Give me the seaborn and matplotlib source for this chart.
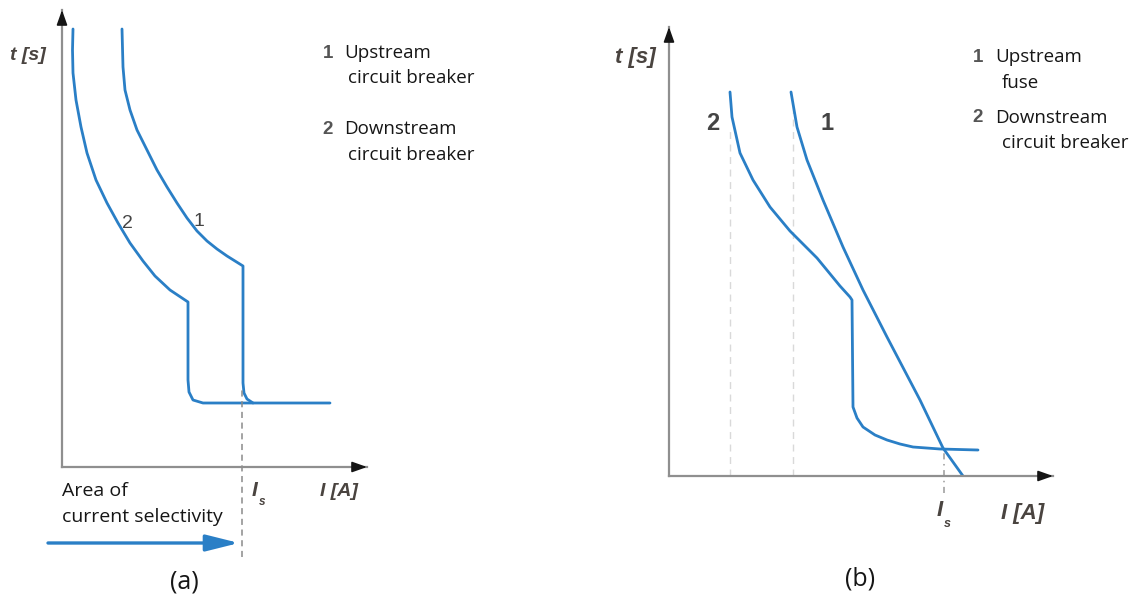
import matplotlib
matplotlib.use("Agg")
import matplotlib.pyplot as plt
import seaborn as sns
import pandas as pd

# ---------------- data (panel a: two circuit breakers) ----------------
a_cb2_I = [11, 10.5, 11, 14, 19, 25, 34, 45, 56, 68, 81, 93, 108, 126, 126, 127, 131, 141, 268]
a_cb2_t = [438, 417, 394, 367, 340, 314, 287, 264, 244, 224, 206, 191, 177, 165, 87, 75, 67, 64, 64]
a_cb1_I = [60, 61, 63, 68, 75, 85, 95, 105, 115, 125, 135, 145, 155, 165, 181, 181, 182, 185, 191]
a_cb1_t = [438, 400, 377, 357, 337, 317, 297, 280, 264, 249, 236, 226, 218, 211, 201, 84, 74, 68, 64]
a_Is = 180

# ---------------- data (panel b: fuse + circuit breaker) ----------------
b_cb2_I = [61, 63, 71, 84, 101, 121, 148, 171, 181, 183, 184, 188, 194, 206, 218, 231, 244, 271, 309]
b_cb2_t = [384, 359, 323, 296, 269, 245, 218, 190, 179, 176, 69, 58, 49, 41, 36, 32, 29, 27, 26]
b_fuse_I = [122, 128, 138, 154, 174, 194, 218, 251, 274, 294]
b_fuse_t = [384, 349, 316, 276, 229, 186, 139, 76, 28, 0]
b_Is = 275
b_guides_I = [61, 124]
b_guides_top = [349, 373]

sns.set_theme(style="white")
plt.rcParams["font.family"] = ["Open Sans", "DejaVu Sans"]
plt.rcParams["lines.solid_joinstyle"] = "round"
plt.rcParams["lines.solid_capstyle"] = "round"

W, H = 1138, 604
fig = plt.figure(figsize=(W / 100, H / 100), dpi=100)

BLUE = "#2a7fc6"
AXC = "#8f8f8f"
LBL = "#4a4440"
TXT = "#161616"


def fx(px):
    return px / W


def fy(py):
    return 1 - py / H


def make_axes(ox, oy, tipx, tipy):
    ax = fig.add_axes([fx(ox), fy(oy), (tipx - ox) / W, (oy - tipy) / H])
    ax.set_xlim(0, tipx - ox)
    ax.set_ylim(0, oy - tipy)
    ax.patch.set_alpha(0)
    for s in ["top", "right"]:
        ax.spines[s].set_visible(False)
    for s in ["left", "bottom"]:
        ax.spines[s].set_color(AXC)
        ax.spines[s].set_linewidth(1.6)
    ax.set_xticks([])
    ax.set_yticks([])
    ap = dict(arrowstyle="-|>,head_length=0.45,head_width=0.16", mutation_scale=20,
              color="#151515", lw=1.2, shrinkA=0, shrinkB=0)
    ax.annotate("", xy=(1, 0), xycoords="axes fraction",
                xytext=(1 - 12 / (tipx - ox), 0), arrowprops=ap)
    ax.annotate("", xy=(0, 1), xycoords="axes fraction",
                xytext=(0, 1 - 12 / (oy - tipy)), arrowprops=ap)
    return ax


# ---------------- panel (a) ----------------
axa = make_axes(62, 467, 367, 10)
sns.lineplot(x=a_cb2_I, y=a_cb2_t, sort=False, estimator=None, color=BLUE, lw=2.0, ax=axa)
sns.lineplot(x=a_cb1_I, y=a_cb1_t, sort=False, estimator=None, color=BLUE, lw=2.0, ax=axa)
axa.vlines(a_Is, -90, a_cb1_t[-4] - 5, colors="#8a8a8a", linestyles=(0, (4, 3)), lw=1.1,
           clip_on=False)
axa.annotate("", xy=(a_Is - 3, -76), xytext=(-14, -76), xycoords="data",
             annotation_clip=False,
             arrowprops=dict(arrowstyle="-|>,head_length=2.0,head_width=0.5", mutation_scale=10,
                             color=BLUE, lw=2.4, shrinkA=0, shrinkB=0))
axa.set_xlabel("")
axa.set_ylabel("")
axa.text(65, 244, "2", ha="center", va="center", fontsize=14, color="#444444",
         family="Liberation Sans")
axa.text(137, 245, "1", ha="center", va="center", fontsize=14, color="#444444",
         family="Liberation Sans")

bi = dict(family="Liberation Sans", weight="bold", style="italic", color=LBL)
fig.text(fx(28), fy(55), "t [s]", ha="center", va="center", fontsize=14, **bi)
fig.text(fx(339), fy(491), "I [A]", ha="center", va="center", fontsize=14, **bi)
fig.text(fx(255), fy(490), "I", ha="center", va="center", fontsize=15, **bi)
fig.text(fx(262), fy(502), "s", ha="center", va="center", fontsize=8.5, **bi)

fig.text(fx(62), fy(491), "Area of", ha="left", va="center", fontsize=14, color=TXT)
fig.text(fx(62), fy(517), "current selectivity", ha="left", va="center", fontsize=14,
         color=TXT)
fig.text(fx(184), fy(582), "(a)", ha="center", va="center", fontsize=18, color=TXT)

dg = dict(family="Liberation Sans", weight="bold", color="#555555")
LS = 13.5
fig.text(fx(328), fy(53), "1", ha="center", va="center", fontsize=LS, **dg)
fig.text(fx(344), fy(53), "Upstream", ha="left", va="center", fontsize=LS, color=TXT)
fig.text(fx(348), fy(78), "circuit breaker", ha="left", va="center", fontsize=LS, color=TXT)
fig.text(fx(328), fy(129), "2", ha="center", va="center", fontsize=LS, **dg)
fig.text(fx(344), fy(129), "Downstream", ha="left", va="center", fontsize=LS, color=TXT)
fig.text(fx(348), fy(155), "circuit breaker", ha="left", va="center", fontsize=LS, color=TXT)

# ---------------- panel (b) ----------------
axb = make_axes(669, 476, 1053, 27)
for gi, gt in zip(b_guides_I, b_guides_top):
    axb.vlines(gi, 0, gt, colors="#d9d9d9", linestyles=(0, (5, 4)), lw=1.0)
sns.lineplot(x=b_cb2_I, y=b_cb2_t, sort=False, estimator=None, color=BLUE, lw=2.0, ax=axb)
sns.lineplot(x=b_fuse_I, y=b_fuse_t, sort=False, estimator=None, color=BLUE, lw=2.0, ax=axb)
axb.vlines(b_Is, -17, b_cb2_t[-2], colors="#9a9a9a", linestyles=(0, (4, 3, 1, 3)), lw=1.1,
           clip_on=False)
axb.set_xlabel("")
axb.set_ylabel("")
axb.text(44, 353, "2", ha="center", va="center", fontsize=17, color="#444444",
         family="Liberation Sans", weight="bold")
axb.text(158, 353, "1", ha="center", va="center", fontsize=17, color="#444444",
         family="Liberation Sans", weight="bold")

fig.text(fx(635), fy(58), "t [s]", ha="center", va="center", fontsize=16, **bi)
fig.text(fx(1023), fy(513), "I [A]", ha="center", va="center", fontsize=16, **bi)
fig.text(fx(940), fy(510), "I", ha="center", va="center", fontsize=16, **bi)
fig.text(fx(947), fy(524), "s", ha="center", va="center", fontsize=9, **bi)
fig.text(fx(860), fy(579), "(b)", ha="center", va="center", fontsize=18, color=TXT)

fig.text(fx(978), fy(57), "1", ha="center", va="center", fontsize=LS, **dg)
fig.text(fx(995), fy(57), "Upstream", ha="left", va="center", fontsize=LS, color=TXT)
fig.text(fx(1002), fy(83), "fuse", ha="left", va="center", fontsize=LS, color=TXT)
fig.text(fx(978), fy(118), "2", ha="center", va="center", fontsize=LS, **dg)
fig.text(fx(995), fy(118), "Downstream", ha="left", va="center", fontsize=LS, color=TXT)
fig.text(fx(1002), fy(143), "circuit breaker", ha="left", va="center", fontsize=LS, color=TXT)

fig.savefig("out.png", dpi=100)
